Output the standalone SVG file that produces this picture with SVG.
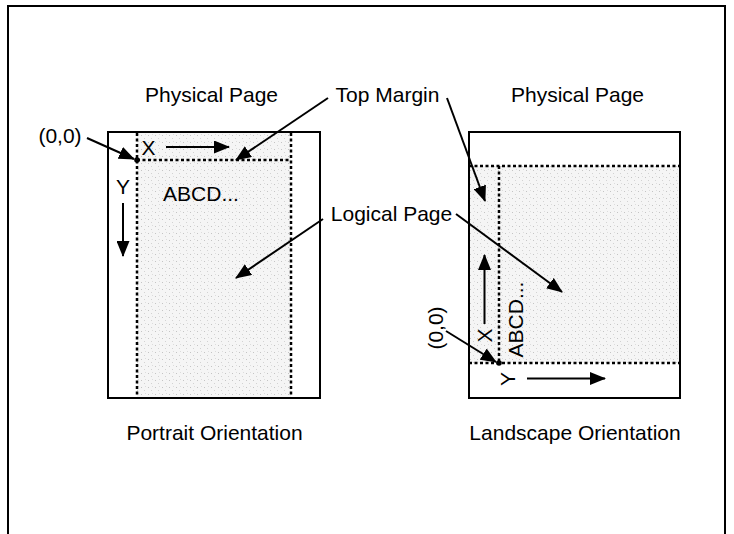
<svg xmlns="http://www.w3.org/2000/svg" width="734" height="534" viewBox="0 0 734 534">
  <style>
    text { font-family: "Liberation Sans", Arial, sans-serif; font-size: 21px; fill: #000; }
    .box { fill: none; stroke: #000; stroke-width: 2; }
    .dash { fill: none; stroke: #000; stroke-width: 2.5; stroke-dasharray: 3 2.5; }
    .arrow { fill: none; stroke: #000; stroke-width: 2; marker-end: url(#ah); }
    .shade { fill: url(#stipple); stroke: none; }
  </style>
  <defs>
    <marker id="ah" markerUnits="userSpaceOnUse" markerWidth="16" markerHeight="13" refX="15" refY="6.5" orient="auto">
      <path d="M0,0 L16,6.5 L0,13 z" fill="#000"/>
    </marker>
    <pattern id="stipple" patternUnits="userSpaceOnUse" width="7" height="7">
      <rect width="7" height="7" fill="#f5f5f5"/>
      <rect x="1" y="2" width="1" height="1" fill="#c4c4c4"/>
      <rect x="4" y="5" width="1" height="1" fill="#d2d2d2"/>
      <rect x="5" y="1" width="1" height="1" fill="#dcdcdc"/>
    </pattern>
  </defs>

  <rect x="8" y="6" width="717" height="540" fill="#fff" stroke="#000" stroke-width="2"/>

  <g id="portrait-page">
    <rect class="shade" x="137" y="133" width="154" height="265"/>
    <rect class="box" x="108" y="132" width="212" height="266"/>
    <line class="dash" x1="137" y1="133" x2="137" y2="398"/>
    <line class="dash" x1="291" y1="133" x2="291" y2="398"/>
    <line class="dash" x1="137" y1="160" x2="291" y2="160"/>
    <circle cx="137" cy="160" r="2.8" fill="#000"/>
    <text x="148.5" y="155" text-anchor="middle">X</text>
    <text x="123" y="194" text-anchor="middle">Y</text>
    <text x="201" y="201" text-anchor="middle">ABCD...</text>
  </g>

  <g id="landscape-page">
    <rect class="shade" x="470" y="166" width="210" height="197"/>
    <rect class="box" x="469" y="132" width="211" height="266"/>
    <line class="dash" x1="469" y1="166" x2="680" y2="166"/>
    <line class="dash" x1="469" y1="363" x2="680" y2="363"/>
    <line class="dash" x1="499" y1="166" x2="499" y2="363"/>
    <circle cx="499" cy="363" r="2.8" fill="#000"/>
    <text transform="translate(491.5,335.5) rotate(-90)" text-anchor="middle">X</text>
    <text transform="translate(515,379) rotate(-90)" text-anchor="middle">Y</text>
    <text transform="translate(523,319.5) rotate(-90)" text-anchor="middle">ABCD...</text>
    <text transform="translate(443,328) rotate(-90)" text-anchor="middle">(0,0)</text>
  </g>

  <g id="labels">
    <text x="211.5" y="102" text-anchor="middle">Physical Page</text>
    <text x="387.5" y="102" text-anchor="middle">Top Margin</text>
    <text x="577.5" y="102" text-anchor="middle">Physical Page</text>
    <text x="60" y="143" text-anchor="middle">(0,0)</text>
    <text x="391.5" y="221" text-anchor="middle">Logical Page</text>
    <text x="214.5" y="440" text-anchor="middle">Portrait Orientation</text>
    <text x="575" y="440" text-anchor="middle">Landscape Orientation</text>
  </g>

  <g id="connectors">
    <line class="arrow" x1="166" y1="147" x2="229" y2="147"/>
    <line class="arrow" x1="123" y1="203" x2="123" y2="256"/>
    <line class="arrow" x1="484.5" y1="324" x2="484.5" y2="255"/>
    <line class="arrow" x1="527" y1="378.5" x2="605" y2="378.5"/>
    <line class="arrow" x1="87" y1="138" x2="134" y2="159"/>
    <line class="arrow" x1="446" y1="331" x2="496" y2="362"/>
    <line class="arrow" x1="328" y1="98" x2="236" y2="160"/>
    <line class="arrow" x1="447" y1="98" x2="485" y2="201"/>
    <line class="arrow" x1="323" y1="219" x2="236" y2="278"/>
    <line class="arrow" x1="456" y1="214" x2="562" y2="292"/>
  </g>
</svg>
